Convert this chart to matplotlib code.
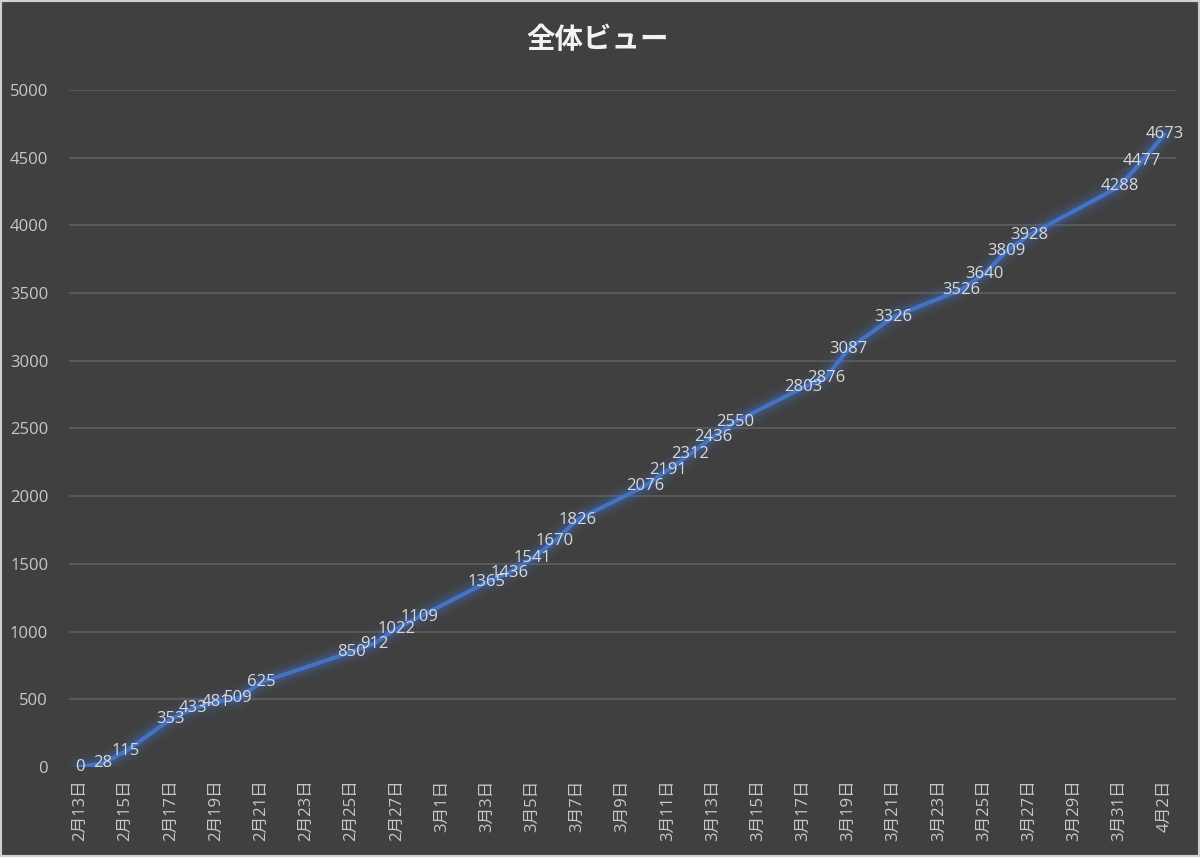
import datetime as dt
import numpy as np
import matplotlib
matplotlib.use('Agg')
import matplotlib.pyplot as plt

plt.rcParams['font.family'] = ['Open Sans', 'Noto Sans CJK JP', 'DejaVu Sans']

# data
dates = ['2023-02-13', '2023-02-14', '2023-02-15', '2023-02-17', '2023-02-18',
         '2023-02-19', '2023-02-20', '2023-02-21', '2023-02-25', '2023-02-26',
         '2023-02-27', '2023-02-28', '2023-03-03', '2023-03-04', '2023-03-05',
         '2023-03-06', '2023-03-07', '2023-03-10', '2023-03-11', '2023-03-12',
         '2023-03-13', '2023-03-14', '2023-03-17', '2023-03-18', '2023-03-19',
         '2023-03-21', '2023-03-24', '2023-03-25', '2023-03-26', '2023-03-27',
         '2023-03-31', '2023-04-01', '2023-04-02']
views = [0, 28, 115, 353, 433, 481, 509, 625, 850, 912, 1022, 1109, 1365, 1436,
         1541, 1670, 1826, 2076, 2191, 2312, 2436, 2550, 2803, 2876, 3087, 3326,
         3526, 3640, 3809, 3928, 4288, 4477, 4673]
title = '全体ビュー'

BG = '#404040'
LINE = '#4472c4'

start = dt.date.fromisoformat(dates[0])
end = dt.date.fromisoformat(dates[-1])
days = np.array([(dt.date.fromisoformat(d) - start).days for d in dates])
n_days = (end - start).days

fig = plt.figure(figsize=(12, 8.57), dpi=100, facecolor=BG)
fig.patches.append(plt.Rectangle((0, 0), 1, 1, transform=fig.transFigure,
                                 fill=False, edgecolor='#d0d0d0', linewidth=3))
ax = fig.add_axes([69 / 1200, 90 / 857, 1107 / 1200, 677 / 857])
ax.set_facecolor(BG)

# glow under the line
for lw, a in [(18, 0.05), (14, 0.07), (10.5, 0.10), (7.5, 0.16)]:
    ax.plot(days, views, color=LINE, linewidth=lw, alpha=a,
            solid_capstyle='round', solid_joinstyle='round')
ax.plot(days, views, color=LINE, linewidth=3,
        solid_capstyle='round', solid_joinstyle='round')

for x, v in zip(days, views):
    ax.text(x, v, str(v), ha='center', va='center', color='#d9d9d9',
            fontsize=12)

ax.set_xlim(-0.5, n_days + 0.5)
ax.set_ylim(0, 5000)
ax.set_yticks(np.arange(0, 5001, 500))
for y in np.arange(500, 5001, 500):
    ax.axhline(y, color='#5a5a5a', linewidth=1.4, zorder=0)

ticks = np.arange(0, n_days + 1, 2)
labels = []
for t in ticks:
    d = start + dt.timedelta(days=int(t))
    labels.append(f'{d.month}月{d.day}日')
ax.set_xticks(ticks)
ax.set_xticklabels(labels, rotation=90, va='top', ha='center')

ax.tick_params(axis='both', length=0, colors='#c8c8c8', labelsize=12)
ax.tick_params(axis='x', pad=9)
ax.tick_params(axis='y', pad=15)
for s in ax.spines.values():
    s.set_visible(False)

fig.text(0.4983, 1 - 40 / 857, title, ha='center', va='center',
         color='#f2f2f2', fontsize=20.5, fontweight='bold',
         family=['Noto Sans CJK JP'])

fig.savefig('out.png', dpi=100, facecolor=BG)
